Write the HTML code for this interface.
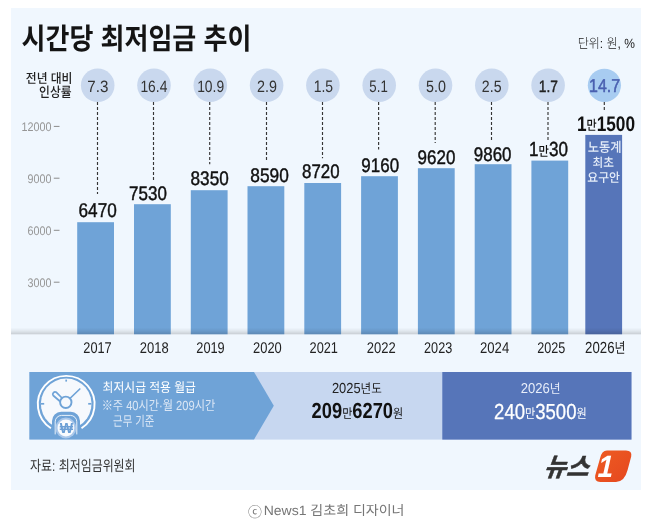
<!DOCTYPE html>
<html lang="ko"><head><meta charset="utf-8"><title>시간당 최저임금 추이</title>
<style>
html,body{margin:0;padding:0;background:#fff;}
body{width:649px;height:520px;overflow:hidden;}
svg{display:block;font-family:"Liberation Sans", "Noto Sans CJK KR", sans-serif;}
text{white-space:pre;}
</style></head><body>
<svg width="649" height="520" viewBox="0 0 649 520" text-rendering="geometricPrecision">
<defs>
<linearGradient id="floor" x1="0" y1="0" x2="0" y2="1"><stop offset="0" stop-color="#000" stop-opacity="0"/><stop offset="0.5" stop-color="#000" stop-opacity="0.065"/><stop offset="1" stop-color="#000" stop-opacity="0.17"/></linearGradient>
<linearGradient id="lg" x1="0" y1="0" x2="1" y2="1"><stop offset="0" stop-color="#ee5c22"/><stop offset="1" stop-color="#e5471f"/></linearGradient>
</defs>
<rect x="11" y="8" width="630" height="482" fill="#f0f7fe"/>
<line x1="97.5" y1="102" x2="97.5" y2="194" stroke="#363636" stroke-width="1.15" stroke-dasharray="3.1 1.9"/>
<circle cx="97.7" cy="85.3" r="16.8" fill="#c9d8ee"/>
<line x1="153.5" y1="102" x2="153.5" y2="180.7" stroke="#363636" stroke-width="1.15" stroke-dasharray="3.1 1.9"/>
<circle cx="154.0" cy="85.3" r="16.8" fill="#c9d8ee"/>
<line x1="209.7" y1="102" x2="209.7" y2="164.3" stroke="#363636" stroke-width="1.15" stroke-dasharray="3.1 1.9"/>
<circle cx="210.3" cy="85.3" r="16.8" fill="#c9d8ee"/>
<line x1="266.5" y1="102" x2="266.5" y2="161.7" stroke="#363636" stroke-width="1.15" stroke-dasharray="3.1 1.9"/>
<circle cx="266.6" cy="85.3" r="16.8" fill="#c9d8ee"/>
<line x1="322.5" y1="102" x2="322.5" y2="158.3" stroke="#363636" stroke-width="1.15" stroke-dasharray="3.1 1.9"/>
<circle cx="322.9" cy="85.3" r="16.8" fill="#c9d8ee"/>
<line x1="378.6" y1="102" x2="378.6" y2="149.4" stroke="#363636" stroke-width="1.15" stroke-dasharray="3.1 1.9"/>
<circle cx="379.2" cy="85.3" r="16.8" fill="#c9d8ee"/>
<line x1="435.2" y1="102" x2="435.2" y2="143.0" stroke="#363636" stroke-width="1.15" stroke-dasharray="3.1 1.9"/>
<circle cx="435.5" cy="85.3" r="16.8" fill="#c9d8ee"/>
<line x1="491.5" y1="102" x2="491.5" y2="140.2" stroke="#363636" stroke-width="1.15" stroke-dasharray="3.1 1.9"/>
<circle cx="491.8" cy="85.3" r="16.8" fill="#c9d8ee"/>
<line x1="548.0" y1="102" x2="548.0" y2="140.2" stroke="#363636" stroke-width="1.15" stroke-dasharray="3.1 1.9"/>
<circle cx="548.1" cy="85.3" r="16.8" fill="#c9d8ee"/>
<line x1="604.3" y1="102" x2="604.3" y2="111.9" stroke="#363636" stroke-width="1.15" stroke-dasharray="3.1 1.9"/>
<circle cx="604.4" cy="85.3" r="16.6" fill="#a8ccf1"/>
<rect x="77.2" y="222.2" width="36.8" height="112.1" fill="#6fa3d7"/>
<rect x="134.0" y="204.2" width="36.8" height="130.1" fill="#6fa3d7"/>
<rect x="190.8" y="190.2" width="36.8" height="144.1" fill="#6fa3d7"/>
<rect x="247.5" y="186.2" width="36.8" height="148.1" fill="#6fa3d7"/>
<rect x="304.3" y="183.0" width="36.8" height="151.3" fill="#6fa3d7"/>
<rect x="361.1" y="176.2" width="36.8" height="158.1" fill="#6fa3d7"/>
<rect x="417.9" y="168.2" width="36.8" height="166.1" fill="#6fa3d7"/>
<rect x="474.7" y="164.2" width="36.8" height="170.1" fill="#6fa3d7"/>
<rect x="531.4" y="160.6" width="36.8" height="173.7" fill="#6fa3d7"/>
<rect x="585.3" y="134.9" width="36.8" height="199.4" fill="#5675b9"/>
<rect x="11" y="327.6" width="630" height="6.7" fill="url(#floor)"/>
<rect x="53.8" y="125.9" width="5.7" height="1" fill="#8c8c8c"/>
<rect x="53.8" y="177.7" width="5.7" height="1" fill="#8c8c8c"/>
<rect x="53.8" y="229.8" width="5.7" height="1" fill="#8c8c8c"/>
<rect x="53.8" y="281.7" width="5.7" height="1" fill="#8c8c8c"/>
<rect x="29.4" y="372" width="602" height="67.6" fill="#c7d7f0"/>
<path d="M29.4 372H254L273.8 405.8L254 439.6H29.4Z" fill="#6fa3d7"/>
<rect x="442.3" y="372" width="189.2" height="67.6" fill="#5675b9"/>
<g id="icon" fill="none" stroke-linecap="round" transform="translate(0,0.4)">
<path d="M50.9 427.8A28.4 28.4 0 1 1 81.5 427.8" stroke="#fff" stroke-width="1.9" stroke-linecap="butt"/>
<path d="M53.6 425.4A25.3 25.3 0 1 1 78.8 425.4Z" fill="#f6f9fd" stroke="none"/>
<line x1="66.2" y1="379.2" x2="66.2" y2="381.2" stroke="#6fa3d7" stroke-width="1.7" stroke-linecap="butt"/>
<line x1="41" y1="403.4" x2="44.2" y2="403.4" stroke="#6fa3d7" stroke-width="1.7" stroke-linecap="butt"/>
<line x1="88.2" y1="403.4" x2="91.4" y2="403.4" stroke="#6fa3d7" stroke-width="1.7" stroke-linecap="butt"/>
<line x1="70.4" y1="397.6" x2="79.8" y2="388.6" stroke="#6fa3d7" stroke-width="1.7"/>
<path d="M62 397.6L56.4 391.9A2.3 2.3 0 0 0 53.2 395.1L59.6 400.6" stroke="#6fa3d7" stroke-width="1.7" stroke-linejoin="round"/>
<circle cx="65.8" cy="401.9" r="5.7" stroke="#6fa3d7" stroke-width="1.9" fill="#f6f9fd"/>
<path d="M52.8 435.4V420.6A8.4 8.4 0 0 1 61.2 412.2H70.8A8.4 8.4 0 0 1 79.2 420.6V435.4Z" fill="#6fa3d7" stroke="#6fa3d7" stroke-width="1.6"/>
<path d="M55.2 433.6V421.4A6.4 6.4 0 0 1 61.6 415H70.4A6.4 6.4 0 0 1 76.8 421.4V433.6" stroke="#f6f9fd" stroke-width="0.9"/>
<circle cx="65.9" cy="427.6" r="10.4" fill="#a9c7ea" stroke="none"/>
<circle cx="65.9" cy="427.6" r="8.4" fill="#f8fbfe" stroke="none"/>
</g>
<g id="logo1shape"><path d="M607 450.5H626Q632.4 450.5 631.2 456.5L627.6 470Q624.5 481.9 616 481.9H600.3Q594 481.9 595.2 475.5L600 458.5Q601.6 450.5 607 450.5Z" fill="url(#lg)"/></g>
<text id="title" font-size="29.271" font-weight="700" fill="#141414" transform="translate(21.60,49.23) scale(0.8883,1)">시간당 최저임금 추이</text>
<text id="unit" font-size="13.388" font-weight="300" fill="#222" transform="translate(577.75,47.58) scale(0.8980,1)">단위: 원, %</text>
<text id="lab1" font-size="13.277" font-weight="500" fill="#222" transform="translate(25.81,82.98) scale(0.8887,1)">전년 대비</text>
<text id="lab2" font-size="13.776" font-weight="500" fill="#222" transform="translate(39.08,96.94) scale(0.8562,1)">인상률</text>
<text id="c0" font-size="16.421" font-weight="400" fill="#333" transform="translate(87.29,92.00) scale(0.9205,1)">7.3</text>
<text id="c1" font-size="16.421" font-weight="400" fill="#333" transform="translate(140.42,92.00) scale(0.8423,1)">16.4</text>
<text id="c2" font-size="16.421" font-weight="400" fill="#333" transform="translate(197.17,92.00) scale(0.8435,1)">10.9</text>
<text id="c3" font-size="16.421" font-weight="400" fill="#333" transform="translate(257.07,92.00) scale(0.8735,1)">2.9</text>
<text id="c4" font-size="16.786" font-weight="400" fill="#333" transform="translate(313.66,91.99) scale(0.8332,1)">1.5</text>
<text id="c5" font-size="16.786" font-weight="400" fill="#333" transform="translate(369.35,91.99) scale(0.7902,1)">5.1</text>
<text id="c6" font-size="16.421" font-weight="400" fill="#333" transform="translate(426.08,92.00) scale(0.8713,1)">5.0</text>
<text id="c7" font-size="16.421" font-weight="400" fill="#333" transform="translate(481.85,92.00) scale(0.8617,1)">2.5</text>
<text id="c8" font-size="16.468" font-weight="400" fill="#222" stroke="#222" stroke-width="0.45" stroke-linejoin="round" transform="translate(538.82,91.98) scale(0.8385,1)">1.7</text>
<text id="c9" font-size="18.667" font-weight="400" fill="#4a60b0" stroke="#4a60b0" stroke-width="0.5" stroke-linejoin="round" transform="translate(589.07,92.48) scale(0.8554,1)">14.7</text>
<text id="v0" font-size="19.884" font-weight="400" fill="#111" stroke="#111" stroke-width="0.45" stroke-linejoin="round" transform="translate(78.56,216.98) scale(0.8635,1)">6470</text>
<text id="v1" font-size="19.679" font-weight="400" fill="#111" stroke="#111" stroke-width="0.45" stroke-linejoin="round" transform="translate(129.07,199.98) scale(0.8631,1)">7530</text>
<text id="v2" font-size="19.679" font-weight="400" fill="#111" stroke="#111" stroke-width="0.45" stroke-linejoin="round" transform="translate(190.56,185.23) scale(0.8725,1)">8350</text>
<text id="v3" font-size="19.679" font-weight="400" fill="#111" stroke="#111" stroke-width="0.45" stroke-linejoin="round" transform="translate(250.30,182.23) scale(0.8801,1)">8590</text>
<text id="v4" font-size="19.679" font-weight="400" fill="#111" stroke="#111" stroke-width="0.45" stroke-linejoin="round" transform="translate(302.06,178.48) scale(0.8579,1)">8720</text>
<text id="v5" font-size="19.679" font-weight="400" fill="#111" stroke="#111" stroke-width="0.45" stroke-linejoin="round" transform="translate(361.33,172.23) scale(0.8631,1)">9160</text>
<text id="v6" font-size="19.679" font-weight="400" fill="#111" stroke="#111" stroke-width="0.45" stroke-linejoin="round" transform="translate(417.56,164.48) scale(0.8637,1)">9620</text>
<text id="v7" font-size="19.679" font-weight="400" fill="#111" stroke="#111" stroke-width="0.45" stroke-linejoin="round" transform="translate(473.83,160.98) scale(0.8607,1)">9860</text>
<text id="v8" font-size="20.291" font-weight="400" fill="#111" stroke="#111" stroke-width="0.45" stroke-linejoin="round" transform="translate(529.12,156.47) scale(0.8416,1)">1<tspan font-size="13.392" font-weight="500" stroke="none" dy="-0.609">만</tspan><tspan dy="0.609">30</tspan></text>
<text id="v9" font-size="21.053" font-weight="700" fill="#111" transform="translate(576.94,130.98) scale(0.8190,1)">1<tspan font-size="13.474" font-weight="500" stroke="none" dy="-0.842">만</tspan><tspan dy="0.842">1500</tspan></text>
<text id="y0" font-size="15.582" font-weight="400" fill="#222" transform="translate(83.30,352.99) scale(0.8170,1)">2017</text>
<text id="y1" font-size="15.582" font-weight="400" fill="#222" transform="translate(139.79,352.99) scale(0.8327,1)">2018</text>
<text id="y2" font-size="15.582" font-weight="400" fill="#222" transform="translate(196.30,352.99) scale(0.8200,1)">2019</text>
<text id="y3" font-size="15.582" font-weight="400" fill="#222" transform="translate(253.05,352.99) scale(0.8281,1)">2020</text>
<text id="y4" font-size="15.582" font-weight="400" fill="#222" transform="translate(309.56,352.99) scale(0.8200,1)">2021</text>
<text id="y5" font-size="15.582" font-weight="400" fill="#222" transform="translate(366.79,352.99) scale(0.8351,1)">2022</text>
<text id="y6" font-size="15.582" font-weight="400" fill="#222" transform="translate(424.06,352.99) scale(0.8124,1)">2023</text>
<text id="y7" font-size="15.582" font-weight="400" fill="#222" transform="translate(480.04,352.99) scale(0.8417,1)">2024</text>
<text id="y8" font-size="15.582" font-weight="400" fill="#222" transform="translate(537.32,352.99) scale(0.8094,1)">2025</text>
<text id="y9" font-size="14.517" font-weight="400" fill="#222" transform="translate(585.10,353.47) scale(0.8205,1)"><tspan font-size="16.114">2026</tspan>년</text>
<text id="a0" font-size="12.438" font-weight="300" fill="#969696" transform="translate(21.56,130.76) scale(0.8685,1)">12000</text>
<text id="a1" font-size="12.438" font-weight="300" fill="#969696" transform="translate(27.53,182.50) scale(0.8643,1)">9000</text>
<text id="a2" font-size="12.438" font-weight="300" fill="#969696" transform="translate(27.53,234.74) scale(0.8643,1)">6000</text>
<text id="a3" font-size="12.438" font-weight="300" fill="#969696" transform="translate(27.53,286.74) scale(0.8643,1)">3000</text>
<text id="bar1" font-size="13.502" font-weight="500" fill="#e4ecf8" transform="translate(587.76,151.91) scale(0.9088,1)">노동계</text>
<text id="bar2" font-size="12.447" font-weight="500" fill="#e4ecf8" transform="translate(592.54,166.76) scale(0.9374,1)">최초</text>
<text id="bar3" font-size="12.613" font-weight="500" fill="#e4ecf8" transform="translate(587.29,181.74) scale(0.9378,1)">요구안</text>
<text id="b1" font-size="13.171" font-weight="400" fill="#ffffff" transform="translate(102.59,392.02) scale(0.8963,1)">최저시급 적용 월급</text>
<text id="b2" font-size="13.169" font-weight="400" fill="#dae6f5" transform="translate(101.68,409.69) scale(0.8469,1)">※주 40시간·월 209시간</text>
<text id="b3" font-size="13.724" font-weight="400" fill="#dae6f5" transform="translate(113.11,426.40) scale(0.7579,1)">근무 기준</text>
<text id="m1" font-size="12.974" font-weight="400" fill="#222" transform="translate(331.91,392.55) scale(0.8880,1)"><tspan font-size="14.531">2025</tspan>년도</text>
<text id="m2" font-size="21.844" font-weight="700" fill="#111" transform="translate(311.60,418.49) scale(0.8393,1)">209<tspan font-size="13.107" font-weight="400" stroke="none" dy="-0.874">만</tspan><tspan dy="0.874">6270</tspan><tspan font-size="13.107" font-weight="400" stroke="none" dy="-0.874">원</tspan></text>
<text id="r1" font-size="12.803" font-weight="400" fill="#e8eefa" transform="translate(520.63,392.57) scale(0.9133,1)"><tspan font-size="14.339">2026</tspan>년</text>
<text id="r2" font-size="21.700" font-weight="400" fill="#ffffff" stroke="#ffffff" stroke-width="0.3" stroke-linejoin="round" transform="translate(494.11,419.24) scale(0.8543,1)">240<tspan font-size="13.020" font-weight="400" stroke="none" dy="-0.868">만</tspan><tspan dy="0.868">3500</tspan><tspan font-size="13.020" font-weight="400" stroke="none" dy="-0.868">원</tspan></text>
<text id="won" font-size="14.444" font-weight="700" fill="#6b9fd5" transform="translate(59.75,433.24) scale(0.9773,1)">₩</text>
<text id="src" font-size="14.722" font-weight="400" fill="#333" transform="translate(30.05,471.12) scale(0.8116,1)">자료: 최저임금위원회</text>
<text id="cap0" font-size="14.163" font-weight="400" fill="#767676" transform="translate(248.00,517.23) scale(0.9811,1)">ⓒ</text>
<text id="cap" font-size="13.445" font-weight="400" fill="#767676" transform="translate(263.66,514.96) scale(1.0425,1)">News1 김초희 디자이너</text>
<text id="logo" font-size="25.494" font-weight="700" fill="#333" stroke="#333" stroke-width="0.5" stroke-linejoin="round" font-style="italic" transform="translate(543.34,476.26) scale(0.9540,1) skewX(-8)">뉴스</text>
<text id="logo1" font-size="30.835" font-weight="700" fill="#ffffff" font-style="italic" transform="translate(597.48,477.24) scale(0.8965,1) skewX(-3)">1</text>
</svg>
</body></html>
